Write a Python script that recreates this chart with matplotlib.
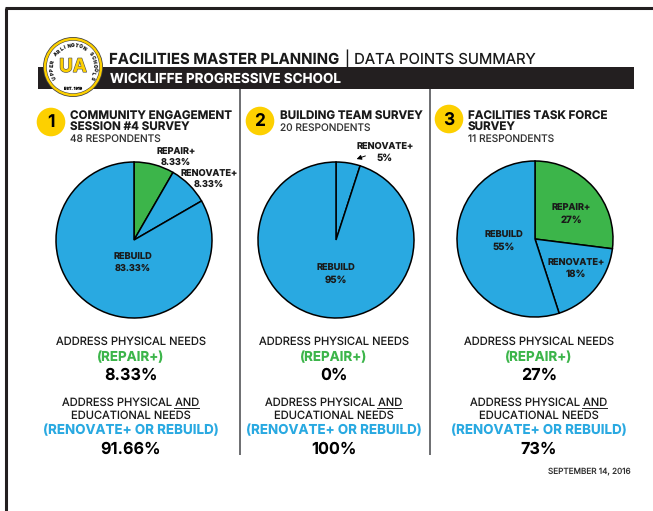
import numpy as np
import matplotlib
matplotlib.use("Agg")
import matplotlib.pyplot as plt
import matplotlib.patheffects as pe

plt.rcParams["font.family"] = ["Inter", "DejaVu Sans"]
plt.rcParams["text.hinting"] = "no_hinting"

# colours
GREEN = "#3cb54a"
BLUE = "#29a9e1"
YELLOW = "#fdd000"
DARK = "#231f20"

# survey data
survey_names = [["COMMUNITY ENGAGEMENT", "SESSION #4 SURVEY"],
                ["BUILDING TEAM SURVEY"],
                ["FACILITIES TASK FORCE", "SURVEY"]]
respondents = ["48 RESPONDENTS", "20 RESPONDENTS", "11 RESPONDENTS"]

pie1_values = [8.33, 8.33, 83.33]
pie1_colors = [GREEN, BLUE, BLUE]
pie2_values = [5, 95]
pie2_colors = [BLUE, BLUE]
pie3_values = [27, 18, 55]
pie3_colors = [GREEN, BLUE, BLUE]

repair_pct = ["8.33%", "0%", "27%"]
rebuild_pct = ["91.66%", "100%", "73%"]

W, H = 653, 511
fig = plt.figure(figsize=(W / 100, H / 100), dpi=100)

# overlay in pixel coordinates
ax = fig.add_axes([0, 0, 1, 1])
ax.set_xlim(0, W)
ax.set_ylim(H, 0)
ax.axis("off")


def label(x, y, s, size=7, weight="normal", color="#1a1a1a", ha="center", **kw):
    ax.text(x, y + 0.8, s, fontsize=size, fontweight=weight, color=color, ha=ha, va="center", **kw)


# page frame
ax.plot([6, 6], [H, 8.5], color=DARK, lw=2.2, solid_capstyle="butt")
ax.plot([5, W], [8.5, 8.5], color=DARK, lw=2.2, solid_capstyle="butt")

# header
ax.fill([38, 634, 634, 38], [67, 67, 89, 89], color=DARK, lw=0)
label(109, 58.5, "FACILITIES MASTER PLANNING", size=10.75, weight="bold", ha="left")
label(345, 58.5, "| DATA POINTS SUMMARY", size=10.7, ha="left")
label(110, 78.5, "WICKLIFFE PROGRESSIVE SCHOOL", size=9.7, weight="bold", color="white", ha="left")

# logo
logo_x, logo_y = 73, 67
for r, c in [(30, "#444444"), (29.2, YELLOW), (26.8, "#333333"), (26.3, "white")]:
    ax.add_patch(plt.Circle((logo_x, logo_y), r, color=c, lw=0, zorder=3))
logo_text = "UPPER ARLINGTON SCHOOLS"
for ch, ang in zip(logo_text, np.linspace(-118, 118, len(logo_text))):
    a = np.radians(ang)
    ax.text(logo_x + 21 * np.sin(a), logo_y - 21 * np.cos(a), ch, fontsize=3.5, fontweight="bold",
            rotation=-ang, ha="center", va="center", color="#222222", zorder=4)
ax.text(logo_x, logo_y + 21.5, "EST. 1919", fontsize=2.8, fontweight="bold", ha="center", va="center", zorder=4)
ax.text(logo_x, logo_y, "UA", fontsize=13.5, fontweight="bold", ha="center", va="center", color=YELLOW, zorder=4,
        path_effects=[pe.withStroke(linewidth=0.9, foreground="#555555")])

# column separators
for x in [240, 429.5]:
    ax.plot([x, x], [89, 455], color="#6d6e71", lw=1.4, solid_capstyle="butt")

# numbered circles and survey titles
badge_x = [51, 260, 449]
badge_y = [122, 121, 119]
text_x = [70, 280, 468]
for i in range(3):
    ax.add_patch(plt.Circle((badge_x[i], badge_y[i]), 14.3, color=YELLOW, lw=0))
    label(badge_x[i], badge_y[i], str(i + 1), size=12.5, weight="bold", color="black")
    y = 115
    for line in survey_names[i]:
        label(text_x[i], y, line, size=8.35, weight="bold", ha="left")
        y += 11
    label(text_x[i], y + 1 if len(survey_names[i]) > 1 else 127, respondents[i], size=7.3, ha="left", color="#333333")


def pie(cx, cy, values, colors, r=78):
    pax = fig.add_axes([(cx - r - 2) / W, 1 - (cy + r + 2) / H, (2 * r + 4) / W, (2 * r + 4) / H])
    pax.pie(values, colors=colors, startangle=90, counterclock=False, radius=r / (r + 2),
            wedgeprops={"edgecolor": "black", "linewidth": 1.1})
    pax.set_xlim(-1, 1)
    pax.set_ylim(-1, 1)
    pax.set_zorder(0.5)


pie(134, 240, pie1_values, pie1_colors)
pie(336, 240, pie2_values, pie2_colors)
pie(535, 239, pie3_values, pie3_colors)
ax.set_zorder(2)

# pie labels
label(176, 151, "REPAIR+", size=6.6, weight="bold")
label(176, 161.5, "8.33%", size=6.6, weight="bold")
label(209, 172.5, "RENOVATE+", size=6.6, weight="bold")
label(209, 183.5, "8.33%", size=6.6, weight="bold")
label(133, 256.5, "REBUILD", size=6.6, weight="bold")
label(133, 268, "83.33%", size=6.6, weight="bold")

label(385, 145.5, "RENOVATE+", size=6.6, weight="bold")
label(385, 157.5, "5%", size=7, weight="bold")
ax.annotate("", xy=(354, 160), xytext=(368, 155),
            arrowprops={"arrowstyle": "-|>", "color": "black", "lw": 0.7, "mutation_scale": 7})
label(336, 267.5, "REBUILD", size=6.6, weight="bold")
label(336, 279.5, "95%", size=7, weight="bold")

label(571, 207, "REPAIR+", size=6.6, weight="bold")
label(571, 219, "27%", size=7, weight="bold")
label(576, 261.5, "RENOVATE+", size=6.6, weight="bold")
label(576, 273.5, "18%", size=7, weight="bold")
label(504, 234.5, "REBUILD", size=6.6, weight="bold")
label(504, 246.5, "55%", size=7, weight="bold")

# summary text under each pie
col_x = [131, 334, 539]
for i in range(3):
    x = col_x[i]
    label(x, 341, "ADDRESS PHYSICAL NEEDS", size=8)
    label(x, 356.5, "(REPAIR+)", size=9.65, weight="bold", color=GREEN)
    label(x, 375, repair_pct[i], size=11.7, weight="bold", color="black")
    label(x, 402, "ADDRESS PHYSICAL AND", size=8)
    ax.plot([x + 43, x + 68], [408.5, 408.5], color="#222222", lw=0.7)
    label(x, 415, "EDUCATIONAL NEEDS", size=8)
    label(x, 430, "(RENOVATE+ OR REBUILD)", size=9.65, weight="bold", color=BLUE)
    label(x, 449, rebuild_pct[i], size=11.7, weight="bold", color="black")

label(631, 470.5, "SEPTEMBER 14, 2016", size=5.9, ha="right", color="#333333")

fig.savefig("out.png", dpi=100)
